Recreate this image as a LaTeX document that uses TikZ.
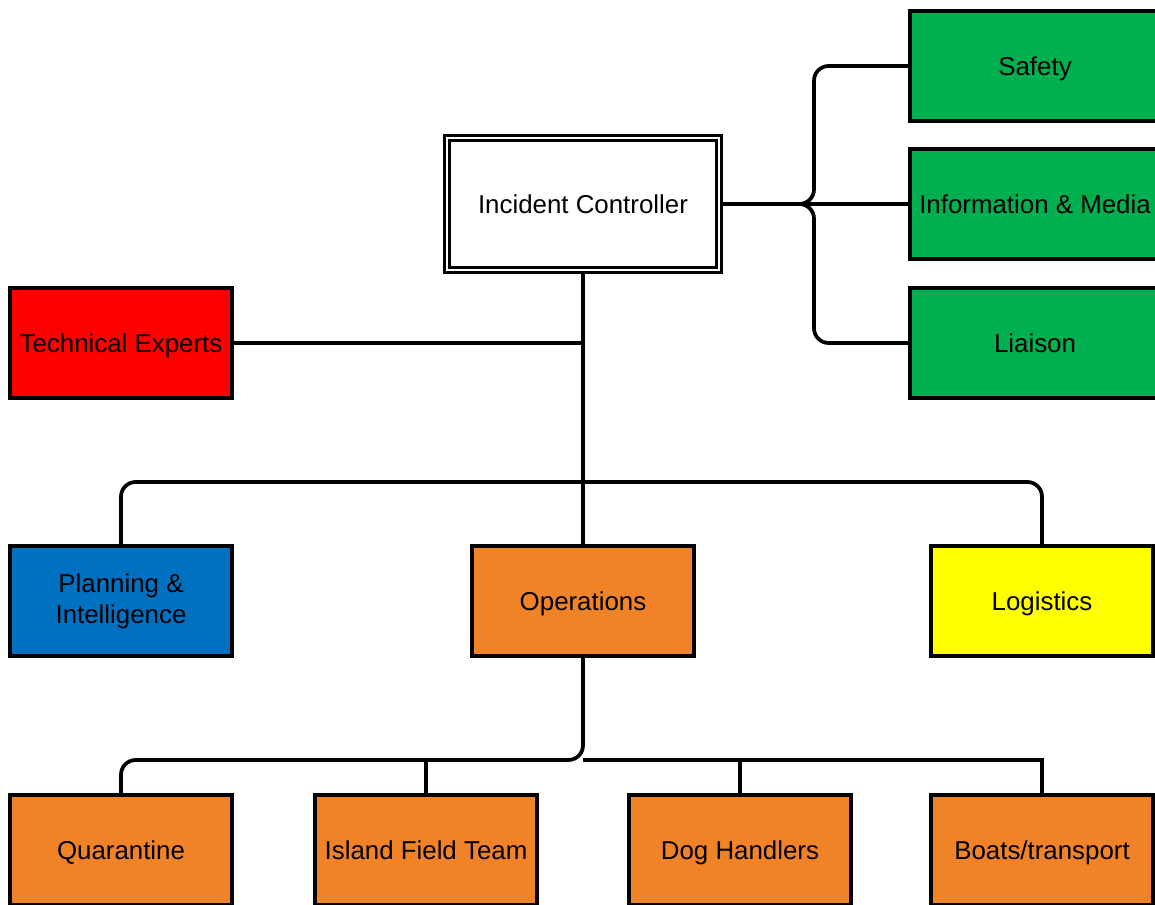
\documentclass[tikz,border=0pt]{standalone}
\usepackage{fontspec}
\setmainfont{Liberation Sans}
\definecolor{boxgreen}{HTML}{00B050}
\definecolor{boxred}{HTML}{FF0000}
\definecolor{boxblue}{HTML}{0070C0}
\definecolor{boxorange}{HTML}{F08228}
\definecolor{boxyellow}{HTML}{FFFF00}
\begin{document}
\begin{tikzpicture}[x=0.75pt,y=-0.75pt,
    every node/.style={font=\fontsize{19.4}{23}\selectfont},
    unit/.style={draw,line width=2.6pt,minimum width=166.5pt,minimum height=82.5pt,inner sep=0pt,align=center,text height=14pt,text depth=0pt},
    wire/.style={line width=2.8pt},
    roundwire/.style={line width=2.8pt,rounded corners=11pt}]
  \useasboundingbox (0,0) rectangle (1155,905);
  % top
  \node[draw,double,line width=1.7pt,double distance=2pt,minimum width=204pt,minimum height=99pt,text height=14pt,text depth=0pt] (ic) at (583,204) {Incident Controller};
  \node[unit,fill=boxgreen,minimum width=187.5pt] (safety) at (1035,66) {Safety};
  \node[unit,fill=boxgreen,minimum width=187.5pt] (info) at (1035,204) {Information \& Media};
  \node[unit,fill=boxgreen,minimum width=187.5pt] (liaison) at (1035,343) {Liaison};
  \node[unit,fill=boxred] (tech) at (121,343) {Technical Experts};
  % sections
  \node[unit,fill=boxblue,text height=,text depth=] (plan) at (121,601) {Planning \&\\Intelligence};
  \node[unit,fill=boxorange] (ops) at (583,601) {Operations};
  \node[unit,fill=boxyellow] (logi) at (1042,601) {Logistics};
  % field units
  \node[unit,fill=boxorange] (quar) at (121,850) {Quarantine};
  \node[unit,fill=boxorange] (isl) at (426,850) {Island Field Team};
  \node[unit,fill=boxorange] (dog) at (740,850) {Dog Handlers};
  \node[unit,fill=boxorange] (boat) at (1042,850) {Boats/transport};
  \coordinate (bus) at (583,482);
  \coordinate (sub) at (583,760);
  \coordinate (brace) at (814,204);
  \coordinate (tip) at (800,204);
  % connectors
  \draw[wire] (ic.east) -- (info.west);
  \draw[roundwire] (safety.west) -| (brace) -- (tip);
  \draw[roundwire] (liaison.west) -| (brace) -- (tip);
  \draw[wire] (ic.south) -- (ops.north);
  \draw[wire] (tech.east) -- (tech.east -| ic.south);
  \draw[roundwire] (plan.north) |- (bus -| logi.north) -- (logi.north);
  \draw[roundwire] (ops.south) |- (sub -| quar.north) -- (quar.north);
  \draw[wire] (sub) -| (boat.north);
  \draw[wire] (isl.north) -- (isl.north |- sub);
  \draw[wire] (dog.north) -- (dog.north |- sub);
\end{tikzpicture}
\end{document}
